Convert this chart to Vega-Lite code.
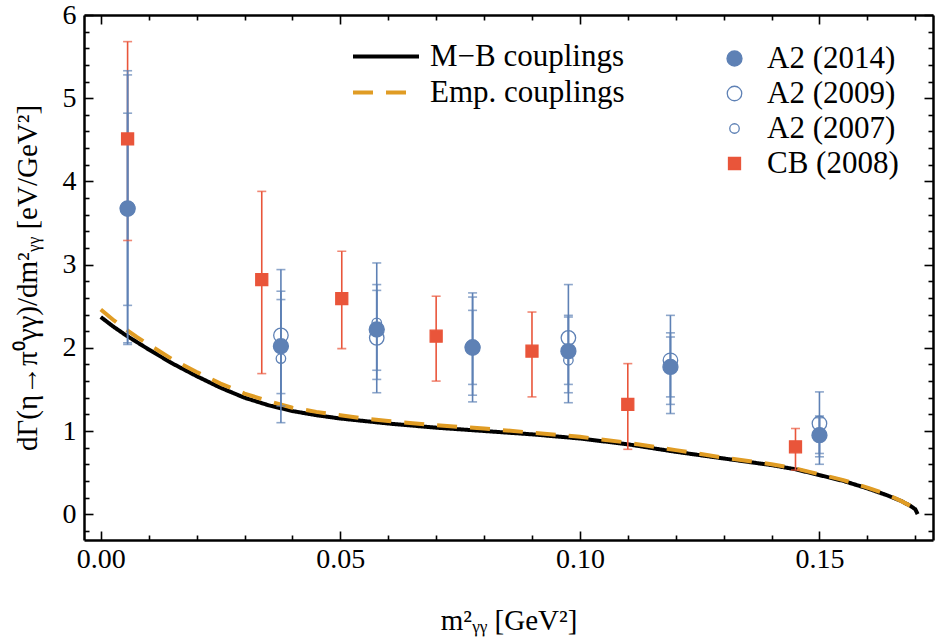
{
  "$schema": "https://vega.github.io/schema/vega-lite/v6.json",
  "width": 849,
  "height": 525,
  "autosize": {"type": "none"},
  "padding": {"left": 84, "top": 15, "right": 5, "bottom": 104},
  "background": "white",
  "config": {
    "view": {"stroke": null},
    "font": "Liberation Serif",
    "axis": {"grid": false, "tickColor": "black", "tickWidth": 1.6, "domainColor": "black", "domainWidth": 2.5, "labelColor": "black", "titleColor": "black", "labelFont": "Liberation Serif", "titleFont": "Liberation Serif", "labelFontSize": 28, "titleFontSize": 29, "titleFontWeight": "normal", "labelFlush": false, "labelOverlap": false},
    "legend": {"labelFont": "Liberation Serif", "labelFontSize": 31, "labelColor": "black", "labelLimit": 0, "padding": 0}
  },
  "datasets": {
    "curves": [
      {"x": 0, "y": 2.37, "curve": "M−B couplings"},
      {"x": 0.0025, "y": 2.26, "curve": "M−B couplings"},
      {"x": 0.005, "y": 2.16, "curve": "M−B couplings"},
      {"x": 0.0075, "y": 2.07, "curve": "M−B couplings"},
      {"x": 0.01, "y": 1.98, "curve": "M−B couplings"},
      {"x": 0.015, "y": 1.81, "curve": "M−B couplings"},
      {"x": 0.02, "y": 1.66, "curve": "M−B couplings"},
      {"x": 0.025, "y": 1.52, "curve": "M−B couplings"},
      {"x": 0.03, "y": 1.4, "curve": "M−B couplings"},
      {"x": 0.035, "y": 1.31, "curve": "M−B couplings"},
      {"x": 0.04, "y": 1.24, "curve": "M−B couplings"},
      {"x": 0.045, "y": 1.19, "curve": "M−B couplings"},
      {"x": 0.05, "y": 1.15, "curve": "M−B couplings"},
      {"x": 0.055, "y": 1.12, "curve": "M−B couplings"},
      {"x": 0.06, "y": 1.09, "curve": "M−B couplings"},
      {"x": 0.07, "y": 1.04, "curve": "M−B couplings"},
      {"x": 0.08, "y": 1.0, "curve": "M−B couplings"},
      {"x": 0.09, "y": 0.96, "curve": "M−B couplings"},
      {"x": 0.1, "y": 0.91, "curve": "M−B couplings"},
      {"x": 0.11, "y": 0.84, "curve": "M−B couplings"},
      {"x": 0.12, "y": 0.75, "curve": "M−B couplings"},
      {"x": 0.13, "y": 0.67, "curve": "M−B couplings"},
      {"x": 0.14, "y": 0.59, "curve": "M−B couplings"},
      {"x": 0.145, "y": 0.54, "curve": "M−B couplings"},
      {"x": 0.15, "y": 0.47, "curve": "M−B couplings"},
      {"x": 0.155, "y": 0.4, "curve": "M−B couplings"},
      {"x": 0.16, "y": 0.31, "curve": "M−B couplings"},
      {"x": 0.164, "y": 0.23, "curve": "M−B couplings"},
      {"x": 0.167, "y": 0.16, "curve": "M−B couplings"},
      {"x": 0.169, "y": 0.1, "curve": "M−B couplings"},
      {"x": 0.17, "y": 0.06, "curve": "M−B couplings"},
      {"x": 0.1705, "y": 0.0, "curve": "M−B couplings"},
      {"x": 0, "y": 2.46, "curve": "Emp. couplings"},
      {"x": 0.0025, "y": 2.34, "curve": "Emp. couplings"},
      {"x": 0.005, "y": 2.23, "curve": "Emp. couplings"},
      {"x": 0.0075, "y": 2.13, "curve": "Emp. couplings"},
      {"x": 0.01, "y": 2.04, "curve": "Emp. couplings"},
      {"x": 0.015, "y": 1.86, "curve": "Emp. couplings"},
      {"x": 0.02, "y": 1.71, "curve": "Emp. couplings"},
      {"x": 0.025, "y": 1.57, "curve": "Emp. couplings"},
      {"x": 0.03, "y": 1.45, "curve": "Emp. couplings"},
      {"x": 0.035, "y": 1.36, "curve": "Emp. couplings"},
      {"x": 0.04, "y": 1.28, "curve": "Emp. couplings"},
      {"x": 0.045, "y": 1.23, "curve": "Emp. couplings"},
      {"x": 0.05, "y": 1.19, "curve": "Emp. couplings"},
      {"x": 0.055, "y": 1.15, "curve": "Emp. couplings"},
      {"x": 0.06, "y": 1.12, "curve": "Emp. couplings"},
      {"x": 0.07, "y": 1.07, "curve": "Emp. couplings"},
      {"x": 0.08, "y": 1.03, "curve": "Emp. couplings"},
      {"x": 0.09, "y": 0.98, "curve": "Emp. couplings"},
      {"x": 0.1, "y": 0.93, "curve": "Emp. couplings"},
      {"x": 0.11, "y": 0.86, "curve": "Emp. couplings"},
      {"x": 0.12, "y": 0.77, "curve": "Emp. couplings"},
      {"x": 0.13, "y": 0.68, "curve": "Emp. couplings"},
      {"x": 0.14, "y": 0.6, "curve": "Emp. couplings"},
      {"x": 0.145, "y": 0.55, "curve": "Emp. couplings"},
      {"x": 0.15, "y": 0.48, "curve": "Emp. couplings"},
      {"x": 0.155, "y": 0.41, "curve": "Emp. couplings"},
      {"x": 0.16, "y": 0.32, "curve": "Emp. couplings"},
      {"x": 0.164, "y": 0.24, "curve": "Emp. couplings"},
      {"x": 0.167, "y": 0.16, "curve": "Emp. couplings"},
      {"x": 0.169, "y": 0.1, "curve": "Emp. couplings"},
      {"x": 0.17, "y": 0.06, "curve": "Emp. couplings"},
      {"x": 0.1705, "y": 0.0, "curve": "Emp. couplings"}
    ],
    "pts": [
      {"x": 0.0056, "y": 4.51, "lo": 3.29, "hi": 5.68, "series": "CB (2008)"},
      {"x": 0.0336, "y": 2.82, "lo": 1.69, "hi": 3.88, "series": "CB (2008)"},
      {"x": 0.0503, "y": 2.59, "lo": 1.99, "hi": 3.16, "series": "CB (2008)"},
      {"x": 0.07, "y": 2.14, "lo": 1.6, "hi": 2.62, "series": "CB (2008)"},
      {"x": 0.09, "y": 1.96, "lo": 1.41, "hi": 2.43, "series": "CB (2008)"},
      {"x": 0.11, "y": 1.32, "lo": 0.78, "hi": 1.81, "series": "CB (2008)"},
      {"x": 0.145, "y": 0.81, "lo": 0.53, "hi": 1.03, "series": "CB (2008)"},
      {"x": 0.0056, "y": 3.68, "lo": 2.04, "hi": 5.33, "series": "A2 (2009)"},
      {"x": 0.0376, "y": 2.15, "lo": 1.45, "hi": 2.68, "series": "A2 (2009)"},
      {"x": 0.0576, "y": 2.12, "lo": 1.62, "hi": 2.69, "series": "A2 (2009)"},
      {"x": 0.0776, "y": 2.01, "lo": 1.43, "hi": 2.61, "series": "A2 (2009)"},
      {"x": 0.0976, "y": 2.12, "lo": 1.56, "hi": 2.39, "series": "A2 (2009)"},
      {"x": 0.1189, "y": 1.85, "lo": 1.41, "hi": 2.18, "series": "A2 (2009)"},
      {"x": 0.15, "y": 1.09, "lo": 0.69, "hi": 1.47, "series": "A2 (2009)"},
      {"x": 0.0056, "y": 3.66, "lo": 2.06, "hi": 5.28, "series": "A2 (2007)"},
      {"x": 0.0376, "y": 1.87, "lo": 1.3, "hi": 2.58, "series": "A2 (2007)"},
      {"x": 0.0576, "y": 2.3, "lo": 1.73, "hi": 2.76, "series": "A2 (2007)"},
      {"x": 0.0776, "y": 2.0, "lo": 1.56, "hi": 2.45, "series": "A2 (2007)"},
      {"x": 0.0976, "y": 1.85, "lo": 1.46, "hi": 2.37, "series": "A2 (2007)"},
      {"x": 0.1189, "y": 1.8, "lo": 1.32, "hi": 2.13, "series": "A2 (2007)"},
      {"x": 0.15, "y": 0.98, "lo": 0.6, "hi": 1.16, "series": "A2 (2007)"},
      {"x": 0.0056, "y": 3.67, "lo": 2.51, "hi": 4.82, "series": "A2 (2014)"},
      {"x": 0.0376, "y": 2.02, "lo": 1.1, "hi": 2.94, "series": "A2 (2014)"},
      {"x": 0.0576, "y": 2.22, "lo": 1.46, "hi": 3.02, "series": "A2 (2014)"},
      {"x": 0.0776, "y": 2.0, "lo": 1.35, "hi": 2.66, "series": "A2 (2014)"},
      {"x": 0.0976, "y": 1.96, "lo": 1.34, "hi": 2.76, "series": "A2 (2014)"},
      {"x": 0.1189, "y": 1.77, "lo": 1.21, "hi": 2.39, "series": "A2 (2014)"},
      {"x": 0.15, "y": 0.95, "lo": 0.73, "hi": 1.18, "series": "A2 (2014)"}
    ]
  },
  "resolve": {
    "scale": {"color": "independent", "fill": "independent", "shape": "independent", "size": "independent", "strokeDash": "independent"},
    "axis": {"x": "independent", "y": "independent"}
  },
  "layer": [
    {
      "data": {"name": "curves"},
      "mark": {"type": "line", "strokeWidth": 4, "strokeCap": "butt"},
      "encoding": {
        "x": {
          "field": "x", "type": "quantitative",
          "scale": {"domain": [-0.0035, 0.1737], "nice": false, "zero": false},
          "axis": {
            "orient": "bottom", "values": [0, 0.05, 0.1, 0.15], "format": ".2f",
            "ticks": false, "labelPadding": 5,
            "title": "m²ᵧᵧ [GeV²]", "titlePadding": 33
          }
        },
        "y": {
          "field": "y", "type": "quantitative",
          "scale": {"domain": [-0.31, 6.0], "nice": false, "zero": false},
          "axis": {
            "orient": "left", "values": [0, 1, 2, 3, 4, 5, 6], "format": "d",
            "ticks": false, "labelPadding": 8,
            "title": "dΓ(η→π⁰γγ)/dm²ᵧᵧ [eV/GeV²]", "titlePadding": 20
          }
        },
        "color": {
          "field": "curve", "type": "nominal",
          "scale": {"domain": ["M−B couplings", "Emp. couplings"], "range": ["#000000", "#e09c24"]},
          "legend": {"title": null, "orient": "none", "legendX": 267, "legendY": 26, "symbolType": "stroke", "symbolSize": 4356, "symbolStrokeWidth": 4, "labelOffset": 9, "clipHeight": 31, "rowPadding": 4}
        },
        "strokeDash": {
          "field": "curve", "type": "nominal",
          "scale": {"domain": ["M−B couplings", "Emp. couplings"], "range": [[1, 0], [20, 13]]},
          "legend": {"title": null, "orient": "none", "legendX": 267, "legendY": 26, "symbolType": "stroke", "symbolSize": 4356, "symbolStrokeWidth": 4, "labelOffset": 9, "clipHeight": 31, "rowPadding": 4}
        }
      }
    },
    {
      "data": {"name": "pts"},
      "mark": {"type": "rule", "strokeWidth": 1.6},
      "encoding": {
        "x": {
          "field": "x", "type": "quantitative",
          "axis": {"orient": "bottom", "values": [0, 0.05, 0.1, 0.15], "labels": false, "domain": false, "tickSize": -9, "title": null}
        },
        "y": {
          "field": "lo", "type": "quantitative",
          "axis": {"orient": "left", "values": [0, 1, 2, 3, 4, 5, 6], "labels": false, "domain": false, "tickSize": -9, "title": null}
        },
        "y2": {"field": "hi"},
        "color": {
          "field": "series", "type": "nominal",
          "scale": {"domain": ["A2 (2014)", "A2 (2009)", "A2 (2007)", "CB (2008)"], "range": ["#5e81b5", "#5e81b5", "#5e81b5", "#e9553a"]},
          "legend": null
        }
      }
    },
    {
      "data": {"name": "pts"},
      "mark": {"type": "tick", "orient": "horizontal", "size": 9, "thickness": 1.6},
      "encoding": {
        "x": {
          "field": "x", "type": "quantitative",
          "axis": {"orient": "bottom", "values": [0.01, 0.02, 0.03, 0.04, 0.06, 0.07, 0.08, 0.09, 0.11, 0.12, 0.13, 0.14, 0.16, 0.17], "labels": false, "domain": false, "tickSize": -5, "title": null}
        },
        "y": {
          "field": "lo", "type": "quantitative",
          "axis": {"orient": "left", "values": [-0.2, 0.2, 0.4, 0.6, 0.8, 1.2, 1.4, 1.6, 1.8, 2.2, 2.4, 2.6, 2.8, 3.2, 3.4, 3.6, 3.8, 4.2, 4.4, 4.6, 4.8, 5.2, 5.4, 5.6, 5.8], "labels": false, "domain": false, "tickSize": -5, "title": null}
        },
        "color": {
          "field": "series", "type": "nominal",
          "scale": {"domain": ["A2 (2014)", "A2 (2009)", "A2 (2007)", "CB (2008)"], "range": ["#5e81b5", "#5e81b5", "#5e81b5", "#e9553a"]},
          "legend": null
        }
      }
    },
    {
      "data": {"name": "pts"},
      "mark": {"type": "tick", "orient": "horizontal", "size": 9, "thickness": 1.6},
      "encoding": {
        "x": {
          "field": "x", "type": "quantitative",
          "axis": {"orient": "top", "values": [0, 0.05, 0.1, 0.15], "labels": false, "tickSize": -9, "title": null}
        },
        "y": {
          "field": "hi", "type": "quantitative",
          "axis": {"orient": "right", "values": [0, 1, 2, 3, 4, 5, 6], "labels": false, "tickSize": -9, "title": null}
        },
        "color": {
          "field": "series", "type": "nominal",
          "scale": {"domain": ["A2 (2014)", "A2 (2009)", "A2 (2007)", "CB (2008)"], "range": ["#5e81b5", "#5e81b5", "#5e81b5", "#e9553a"]},
          "legend": null
        }
      }
    },
    {
      "data": {"name": "pts"},
      "mark": {"type": "point", "filled": false, "strokeWidth": 1.3, "opacity": 1},
      "encoding": {
        "x": {
          "field": "x", "type": "quantitative",
          "axis": {"orient": "top", "values": [0.01, 0.02, 0.03, 0.04, 0.06, 0.07, 0.08, 0.09, 0.11, 0.12, 0.13, 0.14, 0.16, 0.17], "labels": false, "domain": false, "tickSize": -5, "title": null}
        },
        "y": {
          "field": "y", "type": "quantitative",
          "axis": {"orient": "right", "values": [-0.2, 0.2, 0.4, 0.6, 0.8, 1.2, 1.4, 1.6, 1.8, 2.2, 2.4, 2.6, 2.8, 3.2, 3.4, 3.6, 3.8, 4.2, 4.4, 4.6, 4.8, 5.2, 5.4, 5.6, 5.8], "labels": false, "domain": false, "tickSize": -5, "title": null}
        },
        "color": {
          "field": "series", "type": "nominal",
          "scale": {"domain": ["A2 (2014)", "A2 (2009)", "A2 (2007)", "CB (2008)"], "range": ["#5e81b5", "#5e81b5", "#5e81b5", "#e9553a"]},
          "legend": {"title": null, "orient": "none", "legendX": 635, "legendY": 28, "symbolStrokeWidth": 1.3, "labelOffset": 17, "rowPadding": 3, "symbolOpacity": 1}
        },
        "fill": {
          "field": "series", "type": "nominal",
          "scale": {"domain": ["A2 (2014)", "A2 (2009)", "A2 (2007)", "CB (2008)"], "range": ["#5e81b5", "transparent", "transparent", "#e9553a"]},
          "legend": {"title": null, "orient": "none", "legendX": 635, "legendY": 28, "symbolStrokeWidth": 1.3, "labelOffset": 17, "rowPadding": 3, "symbolOpacity": 1}
        },
        "shape": {
          "field": "series", "type": "nominal",
          "scale": {"domain": ["A2 (2014)", "A2 (2009)", "A2 (2007)", "CB (2008)"], "range": ["circle", "circle", "circle", "square"]},
          "legend": {"title": null, "orient": "none", "legendX": 635, "legendY": 28, "symbolStrokeWidth": 1.3, "labelOffset": 17, "rowPadding": 3, "symbolOpacity": 1}
        },
        "size": {
          "field": "series", "type": "nominal",
          "scale": {"type": "ordinal", "domain": ["A2 (2014)", "A2 (2009)", "A2 (2007)", "CB (2008)"], "range": [225, 210, 90, 144]},
          "legend": {"title": null, "orient": "none", "legendX": 635, "legendY": 28, "symbolStrokeWidth": 1.3, "labelOffset": 17, "rowPadding": 3, "symbolOpacity": 1}
        }
      }
    }
  ]
}
